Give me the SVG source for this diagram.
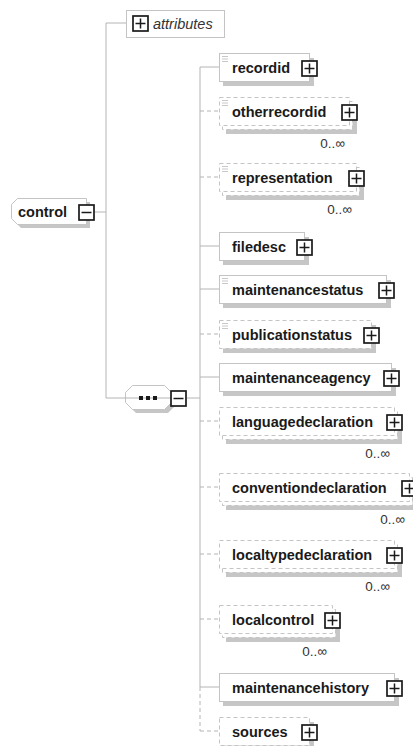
<svg xmlns="http://www.w3.org/2000/svg" width="413" height="746" viewBox="0 0 413 746">
  <style>
    .bg { fill: #ffffff; }
    .box { fill: #ffffff; stroke: #c4c4c4; stroke-width: 1; }
    .opt { fill: #ffffff; stroke: #c4c4c4; stroke-width: 1; stroke-dasharray: 4 3; }
    .shadow { fill: #c6c6c6; stroke: none; }
    .name { font-family: "Liberation Sans", Arial, sans-serif; font-size: 14.5px; font-weight: bold; fill: #1a1a1a; }
    .attr { font-family: "Liberation Sans", Arial, sans-serif; font-size: 14.5px; font-style: italic; fill: #333333; }
    .occ { font-family: "Liberation Sans", Arial, sans-serif; font-size: 13.5px; fill: #333333; text-anchor: end; }
    .icon { fill: #ffffff; stroke: #1a1a1a; stroke-width: 1.7; }
    .glyph { stroke: #1a1a1a; stroke-width: 1.5; fill: none; }
    .doc { stroke: #c8c8c8; stroke-width: 1; fill: none; }
    .wire { stroke: #b4b4b4; stroke-width: 1; fill: none; }
    .wire-opt { stroke: #b4b4b4; stroke-width: 1; fill: none; stroke-dasharray: 4 3; }
  </style>
  <defs>
    <!-- expand (+) and collapse (-) buttons, 15x15 -->
    <g id="plus">
      <rect class="icon" x="0" y="0" width="15" height="15"/>
      <path class="glyph" d="M7.5 2.5 V12.5 M2.5 7.5 H12.5"/>
    </g>
    <g id="minus">
      <rect class="icon" x="0" y="0" width="15" height="15"/>
      <path class="glyph" d="M2.5 7.5 H12.5"/>
    </g>
    <!-- documentation marker in the top-left corner of a box -->
    <path id="docmark" class="doc" d="M0 0 H6 M0 2.5 H6 M0 5 H6"/>
  </defs>

  <rect class="bg" x="0" y="0" width="413" height="746"/>

  <!-- connectors -->
  <g id="connectors">
    <path class="wire" d="M106 23 H126"/>
    <path class="wire" d="M94 212 H106"/>
    <path class="wire" d="M106 23 V398 H125"/>
    <path class="wire" d="M187 398 H200"/>
    <path class="wire" d="M200 67 V687"/>
    <path class="wire-opt" d="M200 687 V731"/>
    <path class="wire" d="M200 67 H219"/>
    <path class="wire-opt" d="M200 111 H219"/>
    <path class="wire-opt" d="M200 177 H219"/>
    <path class="wire" d="M200 246 H219"/>
    <path class="wire" d="M200 289 H219"/>
    <path class="wire-opt" d="M200 334 H219"/>
    <path class="wire" d="M200 377 H219"/>
    <path class="wire-opt" d="M200 421 H219"/>
    <path class="wire-opt" d="M200 487 H219"/>
    <path class="wire-opt" d="M200 554 H219"/>
    <path class="wire-opt" d="M200 619 H219"/>
    <path class="wire" d="M200 687 H219"/>
    <path class="wire-opt" d="M200 731 H219"/>
  </g>

  <!-- attributes -->
  <g id="attributes">
    <rect class="box" x="126.5" y="10.5" width="98" height="27"/>
    <use href="#plus" x="133" y="16"/>
    <text class="attr" x="153" y="29">attributes</text>
  </g>

  <!-- root element -->
  <g id="control">
    <polygon class="shadow" points="21,202 90,202 90,228 21,228 15,222 15,208"/>
    <polygon class="box" points="17.5,198.5 86.5,198.5 86.5,224.5 17.5,224.5 11.5,218.5 11.5,204.5"/>
    <text class="name" x="18" y="217">control</text>
    <use href="#minus" x="79" y="205"/>
  </g>

  <!-- sequence compositor -->
  <g id="sequence">
    <polygon class="shadow" points="136,389 168,389 175,396 175,406 168,413 136,413 129,406 129,396"/>
    <polygon class="box" points="132.5,385.5 164.5,385.5 171.5,392.5 171.5,402.5 164.5,409.5 132.5,409.5 125.5,402.5 125.5,392.5"/>
    <path class="wire" d="M125 398 H171"/>
    <rect x="139" y="396" width="4" height="4" fill="#1a1a1a"/>
    <rect x="146" y="396" width="4" height="4" fill="#1a1a1a"/>
    <rect x="153" y="396" width="4" height="4" fill="#1a1a1a"/>
    <use href="#minus" x="171" y="391"/>
  </g>

  <!-- child elements -->
  <g id="recordid">
    <rect class="shadow" x="223" y="58" width="91" height="28"/>
    <rect class="box" x="219.5" y="53.5" width="90" height="28"/>
    <use href="#docmark" x="222" y="56.5"/>
    <text class="name" x="232" y="73">recordid</text>
    <use href="#plus" x="302" y="61"/>
  </g>

  <g id="otherrecordid">
    <rect class="shadow" x="226" y="106" width="131" height="28"/>
    <rect class="opt" x="222.5" y="101.5" width="130" height="28"/>
    <rect class="opt" x="219.5" y="97.5" width="130" height="28"/>
    <use href="#docmark" x="222" y="100.5"/>
    <text class="name" x="232" y="117">otherrecordid</text>
    <use href="#plus" x="342" y="105"/>
    <text class="occ" x="345" y="148">0..∞</text>
  </g>

  <g id="representation">
    <rect class="shadow" x="226" y="172" width="138" height="28"/>
    <rect class="opt" x="222.5" y="167.5" width="137" height="28"/>
    <rect class="opt" x="219.5" y="163.5" width="137" height="28"/>
    <use href="#docmark" x="222" y="166.5"/>
    <text class="name" x="232" y="183">representation</text>
    <use href="#plus" x="349" y="171"/>
    <text class="occ" x="352" y="214">0..∞</text>
  </g>

  <g id="filedesc">
    <rect class="shadow" x="223" y="237" width="86" height="28"/>
    <rect class="box" x="219.5" y="232.5" width="85" height="28"/>
    <text class="name" x="232" y="252">filedesc</text>
    <use href="#plus" x="297" y="240"/>
  </g>

  <g id="maintenancestatus">
    <rect class="shadow" x="223" y="280" width="168" height="28"/>
    <rect class="box" x="219.5" y="275.5" width="167" height="28"/>
    <use href="#docmark" x="222" y="278.5"/>
    <text class="name" x="232" y="295">maintenancestatus</text>
    <use href="#plus" x="379" y="283"/>
  </g>

  <g id="publicationstatus">
    <rect class="shadow" x="223" y="325" width="153" height="28"/>
    <rect class="opt" x="219.5" y="320.5" width="152" height="28"/>
    <use href="#docmark" x="222" y="323.5"/>
    <text class="name" x="232" y="340">publicationstatus</text>
    <use href="#plus" x="364" y="328"/>
  </g>

  <g id="maintenanceagency">
    <rect class="shadow" x="223" y="368" width="173" height="28"/>
    <rect class="box" x="219.5" y="363.5" width="172" height="28"/>
    <text class="name" x="232" y="383">maintenanceagency</text>
    <use href="#plus" x="384" y="371"/>
  </g>

  <g id="languagedeclaration">
    <rect class="shadow" x="226" y="416" width="176" height="28"/>
    <rect class="opt" x="222.5" y="411.5" width="175" height="28"/>
    <rect class="opt" x="219.5" y="407.5" width="175" height="28"/>
    <text class="name" x="232" y="427">languagedeclaration</text>
    <use href="#plus" x="387" y="415"/>
    <text class="occ" x="390" y="458">0..∞</text>
  </g>

  <g id="conventiondeclaration">
    <rect class="shadow" x="226" y="482" width="191" height="28"/>
    <rect class="opt" x="222.5" y="477.5" width="190" height="28"/>
    <rect class="opt" x="219.5" y="473.5" width="190" height="28"/>
    <text class="name" x="232" y="493">conventiondeclaration</text>
    <use href="#plus" x="402" y="481"/>
    <text class="occ" x="405" y="524">0..∞</text>
  </g>

  <g id="localtypedeclaration">
    <rect class="shadow" x="226" y="549" width="176" height="28"/>
    <rect class="opt" x="222.5" y="544.5" width="175" height="28"/>
    <rect class="opt" x="219.5" y="540.5" width="175" height="28"/>
    <text class="name" x="232" y="560">localtypedeclaration</text>
    <use href="#plus" x="387" y="548"/>
    <text class="occ" x="390" y="591">0..∞</text>
  </g>

  <g id="localcontrol">
    <rect class="shadow" x="226" y="614" width="114" height="28"/>
    <rect class="opt" x="222.5" y="609.5" width="113" height="28"/>
    <rect class="opt" x="219.5" y="605.5" width="113" height="28"/>
    <text class="name" x="232" y="625">localcontrol</text>
    <use href="#plus" x="325" y="613"/>
    <text class="occ" x="327" y="656">0..∞</text>
  </g>

  <g id="maintenancehistory">
    <rect class="shadow" x="223" y="678" width="176" height="28"/>
    <rect class="box" x="219.5" y="673.5" width="175" height="28"/>
    <text class="name" x="232" y="693">maintenancehistory</text>
    <use href="#plus" x="387" y="681"/>
  </g>

  <g id="sources">
    <rect class="shadow" x="223" y="722" width="91" height="28"/>
    <rect class="opt" x="219.5" y="717.5" width="90" height="28"/>
    <text class="name" x="232" y="737">sources</text>
    <use href="#plus" x="302" y="725"/>
  </g>
</svg>
